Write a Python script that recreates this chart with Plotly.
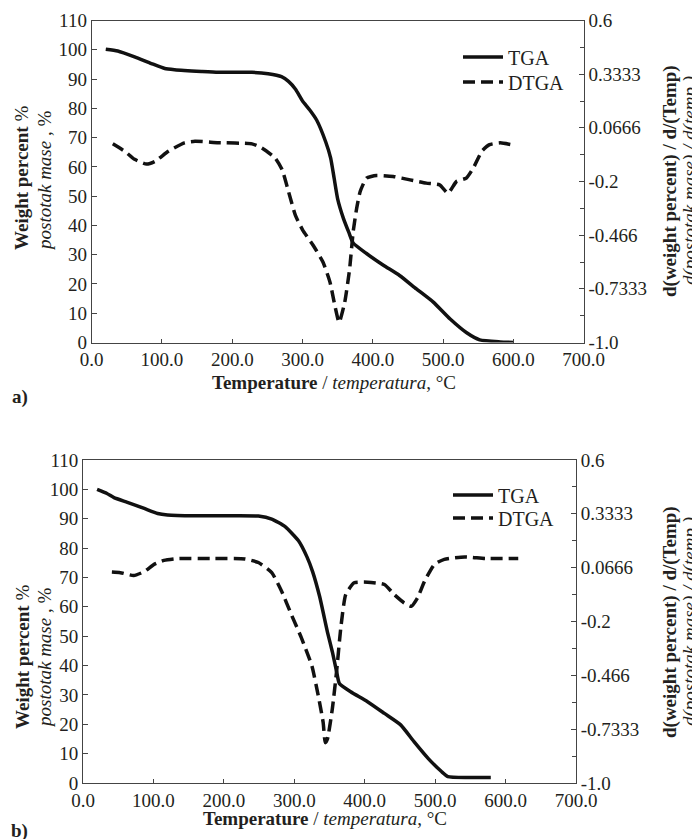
import plotly.graph_objects as go

# ---------------- data ----------------
# Panel a
a_tga_x = [20, 37, 61, 85, 104, 118, 156, 180, 228, 251, 270, 280, 290, 300, 310, 320, 333, 340, 345, 350, 358, 366, 372,
           391, 415, 438, 462, 486, 510, 533, 552, 581, 600]
a_tga_y = [100.2, 99.6, 97.6, 95.3, 93.6, 93.2, 92.6, 92.3, 92.3, 91.8, 90.8, 89.2, 86.5, 82.5, 79.5, 76.0, 68.5, 63.0, 56.0, 49.0, 42.5, 37.5, 34.0,
           30.4, 26.4, 22.9, 18.3, 13.8, 8.0, 3.4, 0.9, 0.2, 0.0]
a_dtga_x = [30, 47, 61, 78, 90, 109, 132, 147, 180, 228, 242, 261, 271, 280, 290, 300, 315, 329, 339, 346, 352, 360, 367, 372,
            377, 382, 391, 405, 429, 453, 476, 495, 507, 519, 533, 543, 555, 566, 581, 597]
a_dtga_y = [-0.013, -0.05, -0.09, -0.113, -0.10, -0.05, -0.008, 0.0, -0.007, -0.013, -0.033, -0.083, -0.142, -0.25, -0.37, -0.44,
            -0.517, -0.60, -0.70, -0.817, -0.90, -0.80, -0.633, -0.45, -0.333, -0.25, -0.183, -0.17, -0.175, -0.192, -0.208,
            -0.217, -0.258, -0.20, -0.183, -0.133, -0.05, -0.017, -0.008, -0.017]

# Panel b
b_tga_x = [20, 34, 44, 63, 87, 106, 120, 158, 206, 249, 268, 287, 306, 318, 326, 336, 347, 354, 360, 364, 380, 404, 428, 451,
           470, 490, 509, 518, 547, 579]
b_tga_y = [100.0, 98.6, 97.2, 95.6, 93.5, 91.8, 91.3, 91.0, 91.0, 90.9, 89.9, 87.3, 82.5, 77.0, 72.0, 63.5, 51.5, 44.7, 38.0,
           33.9, 31.1, 27.7, 23.7, 19.8, 14.1, 8.4, 3.9, 2.2, 1.9, 1.9]
b_dtga_x = [41, 53, 72, 87, 101, 115, 134, 182, 230, 249, 268, 282, 296, 310, 325, 334, 341, 344, 347, 354, 360, 366, 373, 385,
            404, 428, 442, 456, 466, 475, 485, 499, 513, 542, 571, 618]
b_dtga_y = [0.045, 0.042, 0.028, 0.047, 0.083, 0.103, 0.112, 0.112, 0.11, 0.092, 0.042, -0.05, -0.167, -0.28, -0.42, -0.567,
            -0.70, -0.80, -0.783, -0.633, -0.45, -0.233, -0.067, -0.008, -0.005, -0.017, -0.067, -0.108, -0.125, -0.083,
            0.0, 0.083, 0.108, 0.12, 0.112, 0.112]

x_ticks = [0, 100, 200, 300, 400, 500, 600, 700]
left_ticks = [0, 10, 20, 30, 40, 50, 60, 70, 80, 90, 100, 110]
right_tickvals = [0.6, 0.33333, 0.06667, -0.2, -0.46667, -0.73333, -1.0]
right_ticktext = ["0.6", "0.3333", "0.0666", "-0.2", "-0.466", "-0.7333", "-1.0"]

# page has an 8px body margin: figure is sized to fit the 700x839 window
OFF = 8
W, H = 700 - OFF, 839 - OFF
FONT = '"Liberation Serif", "Times New Roman", Times, serif'
TXT = "#231f20"
LINE = "#111111"
AX = "#444444"


def px(x):
    return (x - OFF) / W


def py(y):
    return 1 - (y - OFF) / H


fig = go.Figure()

line_tga = dict(color=LINE, width=3.5, shape="spline", smoothing=0.5)
line_dtga = dict(color=LINE, width=3.5, dash="12px,6px", shape="spline", smoothing=0.5)

fig.add_trace(go.Scatter(x=a_tga_x, y=a_tga_y, mode="lines", name="TGA", line=line_tga,
                         xaxis="x", yaxis="y", legend="legend"))
fig.add_trace(go.Scatter(x=a_dtga_x, y=a_dtga_y, mode="lines", name="DTGA", line=line_dtga,
                         xaxis="x", yaxis="y2", legend="legend2"))
fig.add_trace(go.Scatter(x=b_tga_x, y=b_tga_y, mode="lines", name="TGA", line=line_tga,
                         xaxis="x2", yaxis="y3", legend="legend3"))
fig.add_trace(go.Scatter(x=b_dtga_x, y=b_dtga_y, mode="lines", name="DTGA", line=line_dtga,
                         xaxis="x2", yaxis="y4", legend="legend4"))

tickfont = dict(family=FONT, size=19, color=TXT)

def xax(domain, anchor):
    return dict(domain=domain, anchor=anchor, range=[0, 700], tickmode="array", tickvals=x_ticks,
                ticktext=["%.1f" % v for v in x_ticks], ticks="inside", ticklen=4, tickcolor=AX,
                showline=True, linecolor=AX, linewidth=1, mirror=True, showgrid=False, zeroline=False,
                tickfont=tickfont, automargin=False)

def yleft(domain, anchor):
    return dict(domain=domain, anchor=anchor, range=[0, 110], tickmode="array", tickvals=left_ticks,
                ticks="inside", ticklen=5, tickcolor=AX, showline=True, linecolor=AX, linewidth=1,
                showgrid=False, zeroline=False, tickfont=tickfont, automargin=False)

def yright(overlay, anchor):
    return dict(overlaying=overlay, anchor=anchor, side="right", range=[-1.0, 0.6], tickmode="array",
                tickvals=right_tickvals, ticktext=right_ticktext, ticks="inside", ticklen=5, tickcolor=AX,
                minor=dict(tickmode="linear", tick0=-1.0, dtick=0.4 / 3, ticks="inside", ticklen=4, tickcolor=AX),
                showline=True, linecolor=AX, linewidth=1, showgrid=False, zeroline=False, tickfont=tickfont,
                automargin=False)

def leg(x, y):
    return dict(x=px(x), y=py(y), xanchor="left", yanchor="middle", bgcolor="rgba(0,0,0,0)",
                font=dict(family=FONT, size=20, color=TXT), itemwidth=40)

fig.update_layout(
    width=W, height=H,
    margin=dict(l=0, r=0, t=0, b=0, autoexpand=False),
    paper_bgcolor="white", plot_bgcolor="white",
    font=dict(family=FONT, size=19, color=TXT),
    showlegend=True,
    xaxis=xax([px(91.7), px(583.7)], "y"),
    yaxis=yleft([py(342.5), py(20.5)], "x"),
    yaxis2=yright("y", "x"),
    xaxis2=xax([px(83), px(576)], "y3"),
    yaxis3=yleft([py(783), py(460)], "x2"),
    yaxis4=yright("y3", "x2"),
    legend=leg(458, 57),
    legend2=leg(458, 82),
    legend3=leg(448, 495),
    legend4=leg(448, 518),
)

ann_font = dict(family=FONT, size=19, color=TXT)
left_l1 = "<b>Weight percent</b> %"
left_l2 = "<i>postotak mase</i> , %"
right_l1 = "<b>d(weight percent) / d/(Temp)</b>"
right_l2 = "<i>d(postotak mase) / d(temp.)</i>"
x_title = "<b>Temperature</b> / <i>temperatura</i>, °C"

anns = [
    dict(text=left_l1, x=px(22), y=py(178), textangle=-90),
    dict(text=left_l2, x=px(44), y=py(181), textangle=-90),
    dict(text=right_l1, x=px(670), y=py(181), textangle=-90),
    dict(text=right_l2, x=px(690), y=py(181), textangle=-90),
    dict(text=x_title, x=px(334), y=py(382), textangle=0),
    dict(text="<b>a)</b>", x=px(20), y=py(397), textangle=0),
    dict(text=left_l1, x=px(22), y=py(657), textangle=-90),
    dict(text=left_l2, x=px(44), y=py(658), textangle=-90),
    dict(text=right_l1, x=px(670), y=py(622), textangle=-90),
    dict(text=right_l2, x=px(690), y=py(622), textangle=-90),
    dict(text=x_title, x=px(325), y=py(818), textangle=0),
    dict(text="<b>b)</b>", x=px(20), y=py(831), textangle=0),
]
for a in anns:
    fig.add_annotation(xref="paper", yref="paper", xanchor="center", yanchor="middle",
                       showarrow=False, font=ann_font, **a)

fig.write_html("out.html")
